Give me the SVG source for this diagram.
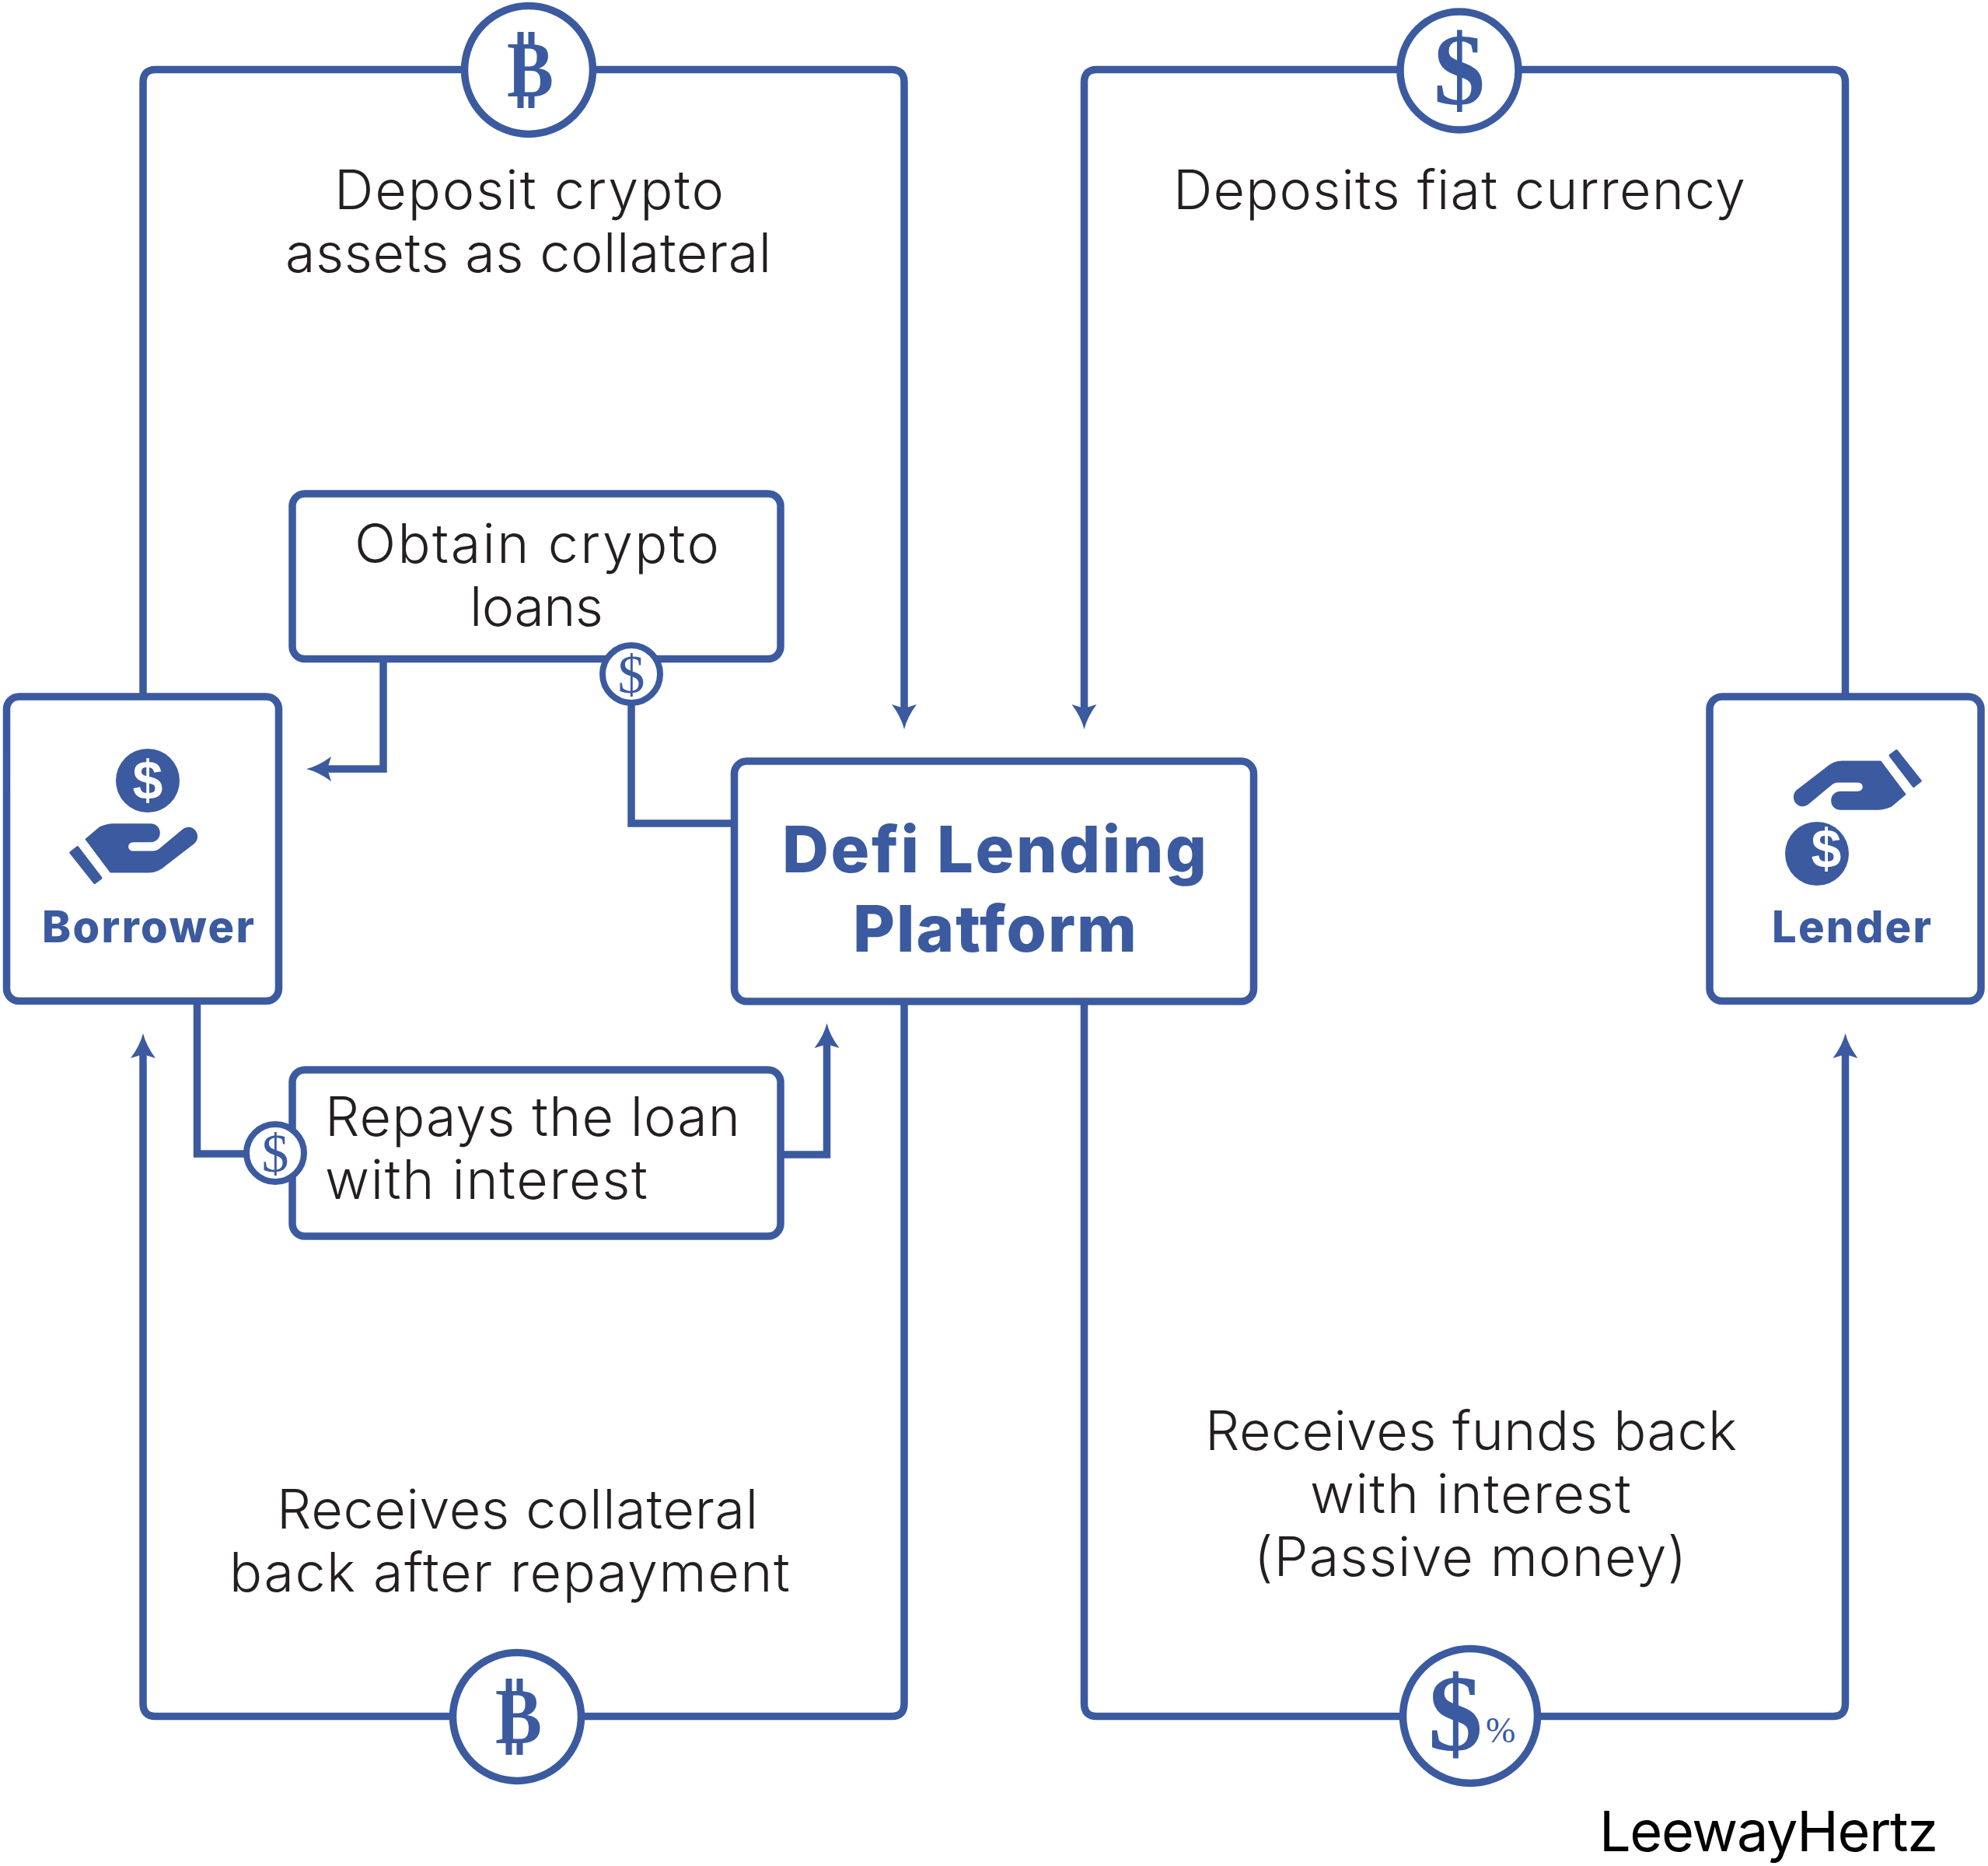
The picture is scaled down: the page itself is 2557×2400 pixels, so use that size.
<svg xmlns="http://www.w3.org/2000/svg" xmlns:xlink="http://www.w3.org/1999/xlink" width="2557" height="2400" viewBox="0 0 2557 2400">
<style>
.line{fill:none;stroke:#3b5a9f;stroke-width:9.500}
.box{fill:#fff;stroke:#3b5a9f;stroke-width:9.500}
.coin{fill:#fff;stroke:#3b5a9f;stroke-width:9.500}
.mini{fill:#fff;stroke:#3b5a9f;stroke-width:8}
.t{font-family:Inter,"Liberation Sans",sans-serif;font-weight:300;font-size:70px;fill:#231f20;font-variant-ligatures:none}
.b{font-family:Inter,"Liberation Sans",sans-serif;font-weight:800;fill:#3b5a9f;font-variant-ligatures:none}
.c{font-family:"Liberation Serif",serif;font-weight:700;fill:#3b5a9f}
.fill{fill:#3b5a9f}
.w{font-family:"Liberation Sans",sans-serif;font-weight:700;fill:#fff;font-size:70px;text-anchor:middle}
</style>
<defs>
<marker id="arr" markerUnits="userSpaceOnUse" markerWidth="34" markerHeight="36" viewBox="0 0 34 36" refX="10" refY="18" orient="auto">
<path d="M34 18Q18 22 2 34L7 18L2 2Q18 14 34 18Z" fill="#3b5a9f"/>
</marker>
<g id="hand" fill="#3b5a9f">
<path d="M109.300 1079.300L128.300 1063.300Q138.300 1059.300 145 1059.300H193.300C210 1059.300 210 1083.300 193.300 1083.300H171.700C163 1083.300 163 1094.600 171.700 1094.600H196.700Q201 1094.600 204 1092.300L235 1066.600C248 1057 261 1075 250 1085L213.300 1113.300Q203.300 1122.600 191.700 1122.600H141.700Z"/>
<path d="M90 1095.300L99 1088.300Q100 1087.800 101 1088.700L131 1128Q132 1129.500 131 1130.500L123 1136.600Q121.500 1137.600 120.500 1136.600L89.500 1097.500Q88.500 1096 90 1095.300Z"/>
</g>
</defs>
<rect width="2557" height="2400" fill="#fff"/>
<g id="connectors">
<path class="line" d="M184 892V106Q184 89.500 200 89.500H1147Q1163 89.500 1163 106V914" marker-end="url(#arr)"/>
<path class="line" d="M2373.500 892V106Q2373.500 89.500 2357.500 89.500H1410.500Q1394.500 89.500 1394.500 106V914" marker-end="url(#arr)"/>
<path class="line" d="M1163 1292V2191Q1163 2207.500 1147 2207.500H200Q184 2207.500 184 2191V1353" marker-end="url(#arr)"/>
<path class="line" d="M1394.500 1292V2191Q1394.500 2207.500 1410.500 2207.500H2357.500Q2373.500 2207.500 2373.500 2191V1353" marker-end="url(#arr)"/>
<path class="line" d="M493 852V989H418" marker-end="url(#arr)"/>
<path class="line" d="M812 900V1059H943"/>
<path class="line" d="M253.500 1292V1484H320"/>
<path class="line" d="M1008 1485H1063.500V1340" marker-end="url(#arr)"/>
</g>
<g id="node-top-btc">
<circle class="coin" cx="680" cy="90" r="82.500"/>
<text class="c" x="652" y="124" font-size="102" textLength="60" lengthAdjust="spacingAndGlyphs">B</text>
<path class="fill" d="M665.500 41h8v17h-8zM679.500 41h8v17h-8zM665.500 122h8v17h-8zM679.500 122h8v17h-8z"/>
</g>
<g id="node-top-usd">
<circle class="coin" cx="1877" cy="91" r="76"/>
<text class="c" x="1877" y="134" font-size="132" text-anchor="middle">$</text>
</g>
<g id="node-bottom-btc">
<circle class="coin" cx="665" cy="2208" r="82.500"/>
<text class="c" x="637" y="2242" font-size="102" textLength="60" lengthAdjust="spacingAndGlyphs">B</text>
<path class="fill" d="M650.500 2159h8v17h-8zM664.500 2159h8v17h-8zM650.500 2240h8v17h-8zM664.500 2240h8v17h-8z"/>
</g>
<g id="node-bottom-usd">
<circle class="coin" cx="1891" cy="2207" r="86.500"/>
<text class="c" x="1872" y="2251" font-size="140" text-anchor="middle">$</text>
<text x="1911" y="2241" font-family="Liberation Serif,serif" font-size="46" fill="#3b5a9f">%</text>
</g>
<g id="node-deposit-label">
<text class="t" x="430" y="269" textLength="501">Deposit crypto</text>
<text class="t" x="367" y="350" textLength="625">assets as collateral</text>
</g>
<text id="node-fiat-label" class="t" x="1509" y="269" textLength="736">Deposits fiat currency</text>
<g id="node-obtain">
<rect class="box" x="376" y="635" width="628" height="212.500" rx="16"/>
<text class="t" x="456" y="724" textLength="469">Obtain crypto</text>
<text class="t" x="604" y="805" textLength="172">loans</text>
<circle class="mini" cx="812" cy="867" r="37"/>
<text class="c" x="812" y="891" font-size="70" style="font-weight:400" text-anchor="middle">$</text>
</g>
<g id="node-repay">
<rect class="box" x="376" y="1376" width="628" height="214" rx="16"/>
<text class="t" x="418" y="1461" textLength="534">Repays the loan</text>
<text class="t" x="418" y="1542" textLength="415">with interest</text>
<circle class="mini" cx="354" cy="1483" r="37"/>
<text class="c" x="354" y="1507" font-size="70" style="font-weight:400" text-anchor="middle">$</text>
</g>
<g id="node-borrower">
<rect class="box" x="8.500" y="896" width="350" height="391.500" rx="16"/>
<circle class="fill" cx="190" cy="1004" r="41"/>
<text class="w" x="190" y="1028">$</text>
<use xlink:href="#hand" href="#hand"/>
<text class="b" x="54" y="1212" font-size="56" textLength="273">Borrower</text>
</g>
<g id="node-lender">
<rect class="box" x="2199" y="896" width="349" height="391.500" rx="16"/>
<use xlink:href="#hand" href="#hand" transform="translate(2561 2101) rotate(180)"/>
<circle class="fill" cx="2337" cy="1098" r="41"/>
<text class="w" x="2349" y="1116">$</text>
<text class="b" x="2279" y="1212" font-size="56" textLength="205">Lender</text>
</g>
<g id="node-platform">
<rect class="box" x="944.500" y="979" width="668" height="309" rx="16"/>
<text class="b" x="1006" y="1122" font-size="83" textLength="546">Defi Lending</text>
<text class="b" x="1097" y="1224" font-size="83" textLength="365">Platform</text>
</g>
<g id="node-collateral-label">
<text class="t" x="356" y="1966" textLength="619">Receives collateral</text>
<text class="t" x="295" y="2047" textLength="721">back after repayment</text>
</g>
<g id="node-funds-label">
<text class="t" x="1550" y="1865" textLength="684">Receives funds back</text>
<text class="t" x="1685" y="1946" textLength="413">with interest</text>
<text class="t" x="1613" y="2027" textLength="556">(Passive money)</text>
</g>
<text id="brand" x="2057" y="2381" font-family="Inter,Roboto,sans-serif" font-size="72" fill="#000" textLength="436">LeewayHertz</text>
</svg>
